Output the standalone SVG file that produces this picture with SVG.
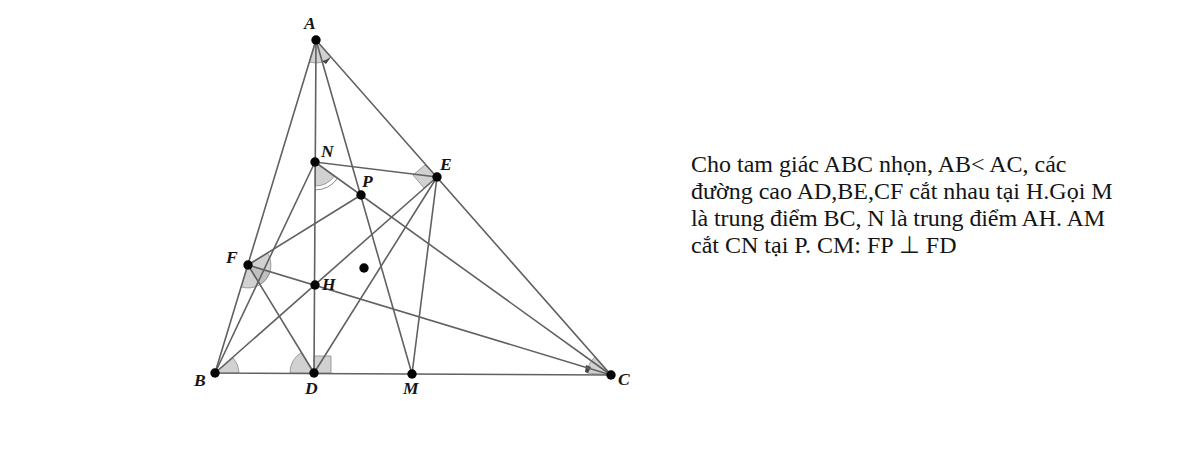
<svg xmlns="http://www.w3.org/2000/svg" width="1195" height="460" viewBox="0 0 1195 460">
<style>
.l{stroke:#616161;stroke-width:1.6;fill:none;stroke-linecap:round}
.a{fill:#b4b4b4;fill-opacity:.62;stroke:#8a8a8a;stroke-width:.8}
.k{fill:#454545}
.d{fill:#050505}
.n{font:italic bold 17.500px "Liberation Serif",serif;fill:#151515}
.t{font:24px "Liberation Serif",serif;fill:#141414}
</style>
<rect width="1195" height="460" fill="#fff"/>
<g id="angles">
<path class="a" d="M316 40L309.300 62A23 23 0 0 0 331 57Z"/>
<path class="k" d="M322 61Q327 60 331 57L326 64Z"/>
<path class="a" d="M315 162V186A24 24 0 0 0 334.500 176Z"/>
<path d="M315 190A28 28 0 0 0 337.700 178" fill="none" stroke="#8a8a8a" stroke-width="1"/>
<path class="a" d="M437 177L425 165L413 175L424 188Z"/>
<path class="a" d="M248 265L241.300 287A23 23 0 0 0 270 271.700Z"/>
<path class="a" d="M248 265L267.500 252.900A23 23 0 0 1 260 284.600Z"/>
<path class="a" d="M215 373L233 358A24 24 0 0 1 239 373Z"/>
<path class="a" d="M314 373L301.500 352.500A24 24 0 0 0 290 373Z"/>
<path class="a" d="M314 373V356H331V373Z"/>
<path class="a" d="M611 375L595 357A24 24 0 0 0 587 373Z"/>
<path class="k" d="M586 365L591 367L588 373L585 372Z"/>
</g>
<g id="connectors">
<path class="l" d="M316 40L215 373L611 375Z"/>
<path class="l" d="M316 40L314 373"/>
<path class="l" d="M316 40L412 374"/>
<path class="l" d="M215 373L315 162L437 177"/>
<path class="l" d="M315 162L611 375"/>
<path class="l" d="M215 373L437 177L314 373"/>
<path class="l" d="M437 177L412 374"/>
<path class="l" d="M248 265L611 375"/>
<path class="l" d="M248 265L314 373"/>
<path class="l" d="M248 265L361 195"/>
</g>
<g id="node-A"><circle class="d" cx="316" cy="40" r="4.700"/><text class="n" x="304" y="29">A</text></g>
<g id="node-B"><circle class="d" cx="215" cy="373" r="4.700"/><text class="n" x="194" y="386">B</text></g>
<g id="node-C"><circle class="d" cx="611" cy="375" r="4.700"/><text class="n" x="618" y="385">C</text></g>
<g id="node-D"><circle class="d" cx="314" cy="373" r="4.700"/><text class="n" x="305" y="394">D</text></g>
<g id="node-M"><circle class="d" cx="412" cy="374" r="4.700"/><text class="n" x="403" y="394">M</text></g>
<g id="node-N"><circle class="d" cx="315" cy="162" r="4.700"/><text class="n" x="321" y="157">N</text></g>
<g id="node-H"><circle class="d" cx="315" cy="285" r="4.700"/><text class="n" x="322" y="290">H</text></g>
<g id="node-F"><circle class="d" cx="248" cy="265" r="4.700"/><text class="n" x="226" y="263">F</text></g>
<g id="node-E"><circle class="d" cx="437" cy="177" r="4.700"/><text class="n" x="440" y="170">E</text></g>
<g id="node-P"><circle class="d" cx="361" cy="195" r="4.700"/><text class="n" x="362" y="187">P</text></g>
<g id="node-dot"><circle class="d" cx="364" cy="268" r="4.700"/></g>
<g id="statement">
<text class="t" x="691" y="172">Cho tam giác ABC nhọn, AB&lt; AC, các</text>
<text class="t" x="691" y="199">đường cao AD,BE,CF cắt nhau tại H.Gọi M</text>
<text class="t" x="691" y="226" letter-spacing="-.1">là trung điểm BC, N là trung điểm AH. AM</text>
<text class="t" x="691" y="253">cắt CN tại P. CM: FP ⊥ FD</text>
</g>
</svg>
